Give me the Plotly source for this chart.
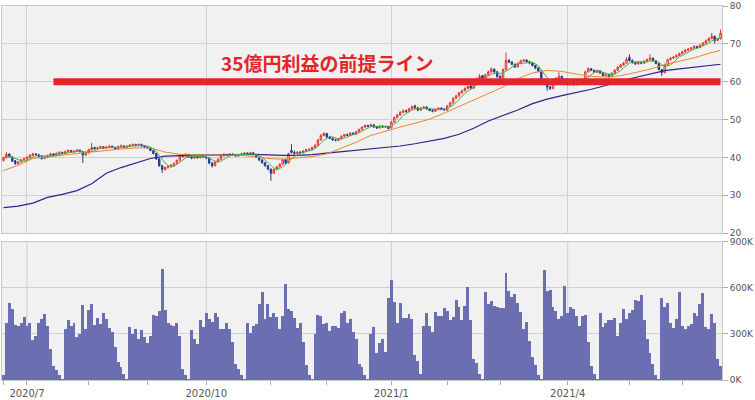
import pandas as pd
import plotly.graph_objects as go

# ---------------- data ----------------
START, END = "2020-06-19", "2021-06-18"
HOLIDAYS = ["2020-07-23", "2020-07-24", "2020-08-10", "2020-09-21", "2020-09-22",
            "2020-11-03", "2020-11-23", "2020-12-31", "2021-01-01", "2021-01-11",
            "2021-02-11", "2021-02-23", "2021-04-29", "2021-05-03", "2021-05-04",
            "2021-05-05"]

OPEN = [
    39.2, 39.9, 40.9, 40.1, 39.1, 38.3, 38.8, 39.4,
    39.6, 40.0, 40.5, 40.9, 40.7, 40.2, 39.7, 40.0, 40.5, 40.9, 40.6, 41.0, 41.3, 41.0, 41.5, 41.8, 41.4, 41.6, 41.9, 41.5, 40.6,
    41.2, 42.0, 42.6, 42.3, 42.5, 42.8, 42.4, 42.7, 42.9, 42.6, 42.3, 42.8, 43.0, 42.7, 42.9, 43.2, 43.4, 43.1, 43.4, 43.0,
    42.8, 42.5, 41.8, 41.0, 39.6, 37.8, 36.8, 37.3, 37.6, 37.9, 38.4, 39.2, 40.5, 40.3, 40.8, 40.1, 39.8, 40.2, 39.9, 40.4,
    40.1, 39.8, 38.5, 37.8, 38.8, 39.5, 40.4, 40.8, 40.5, 40.9, 40.6, 40.4, 40.7, 40.9, 41.1, 40.8, 41.2, 40.7, 40.0, 39.3, 38.6, 37.8,
    36.9, 35.8, 36.8, 37.5, 38.2, 39.4, 38.5, 41.8, 41.3, 41.0, 41.4, 41.2, 41.7, 42.0, 42.1, 42.6, 43.2, 44.6, 45.8,
    46.3, 45.4, 45.0, 44.6, 44.5, 44.9, 45.6, 46.0, 45.8, 46.4, 46.1, 46.8, 47.4, 48.0, 48.4, 48.2, 48.6, 48.0, 47.8, 48.3, 48.0, 48.2,
    47.8, 49.3, 50.5, 51.2, 51.9, 52.3, 52.1, 52.8, 53.6, 53.1, 52.5, 53.0, 53.3, 52.8, 52.4, 52.2, 52.7, 53.0, 52.8,
    52.5, 53.6, 54.4, 55.6, 56.2, 57.0, 57.6, 58.2, 58.9, 58.3, 59.6, 60.8, 61.6, 60.9, 61.8, 62.6, 63.3, 62.6,
    61.4, 61.0, 63.2, 65.6, 65.2, 64.6, 63.9, 64.8, 65.5, 65.7, 65.3, 64.9, 64.3, 63.6, 62.8, 60.2, 59.9, 58.6, 58.2, 60.3, 60.9, 61.4, 60.2,
    60.6, 59.3, 59.8, 59.2, 59.6, 60.1, 60.5, 62.6, 63.4, 63.0, 62.5, 62.9, 62.3, 61.6, 61.8, 61.3, 62.2, 63.0, 63.8, 64.4, 64.9,
    66.4, 65.6, 65.0, 64.7, 65.2, 64.9, 65.4, 65.8, 66.2, 65.5, 64.8, 63.2, 62.4, 64.5, 65.8, 66.2, 66.5, 66.9,
    67.4, 67.9, 68.3, 68.6, 68.9, 69.3, 69.0, 69.6, 70.2, 70.8, 71.4, 72.0, 70.9, 71.3,
]
HIGH = [
    40.2, 41.4, 41.0, 40.3, 39.3, 39.0, 39.6, 39.9,
    40.3, 40.8, 41.2, 41.1, 40.9, 40.4, 40.3, 40.7, 41.2, 41.1, 41.3, 41.6, 41.5, 41.8, 42.1, 42.0, 41.9, 42.2, 42.1, 41.7, 41.5,
    42.3, 43.8, 42.8, 42.8, 43.1, 42.9, 43.0, 43.2, 43.1, 42.8, 43.1, 43.4, 43.2, 43.2, 43.5, 43.7, 43.6, 43.7, 43.6, 43.2,
    43.0, 42.7, 42.0, 41.2, 39.8, 38.0, 37.6, 37.9, 38.2, 38.6, 39.4, 40.8, 40.8, 41.1, 40.9, 40.4, 40.5, 40.4, 40.7, 40.6,
    40.3, 40.0, 38.7, 39.0, 39.7, 40.6, 41.1, 40.9, 41.1, 41.0, 40.8, 40.9, 41.2, 41.4, 41.3, 41.5, 41.4, 40.9, 40.2, 39.5, 38.8, 38.0,
    37.0, 37.0, 37.7, 38.4, 39.7, 39.6, 41.2, 43.5, 41.8, 41.6, 41.6, 41.9, 42.2, 42.4, 42.8, 43.4, 44.8, 46.1, 46.6,
    46.5, 45.7, 45.3, 44.9, 45.1, 45.8, 46.2, 46.3, 46.6, 46.6, 47.0, 47.6, 48.2, 48.7, 48.6, 48.9, 48.7, 48.3, 48.5, 48.5, 48.4, 48.3,
    49.6, 50.8, 51.5, 52.2, 52.7, 52.6, 53.1, 53.7, 53.9, 53.3, 53.2, 53.6, 53.5, 53.0, 52.7, 52.9, 53.2, 53.2, 53.0,
    53.8, 54.7, 55.9, 56.5, 57.3, 57.9, 58.5, 59.0, 59.1, 59.9, 61.1, 62.0, 61.8, 62.1, 62.9, 63.8, 63.5, 62.8,
    61.8, 63.5, 67.7, 66.0, 65.4, 64.8, 65.1, 65.8, 66.0, 65.9, 65.5, 65.1, 64.5, 63.8, 62.9, 60.8, 60.1, 58.9, 60.6, 61.2, 62.5, 61.6, 60.9,
    60.8, 60.1, 60.0, 59.9, 60.4, 60.8, 62.9, 63.8, 63.6, 63.2, 63.2, 63.0, 62.5, 62.1, 61.9, 62.5, 63.3, 64.1, 64.7, 65.2, 66.4,
    67.2, 65.9, 65.3, 65.5, 65.4, 65.7, 66.1, 67.2, 66.4, 65.7, 65.0, 63.4, 64.8, 66.1, 66.5, 66.8, 67.2, 67.7,
    68.2, 68.6, 68.9, 69.2, 69.6, 69.5, 69.9, 70.5, 71.1, 71.7, 72.8, 72.2, 71.6, 73.8,
]
LOW = [
    38.9, 39.7, 39.9, 38.8, 38.0, 38.1, 38.6, 39.1,
    39.4, 39.8, 40.3, 40.5, 40.0, 39.4, 39.5, 39.9, 40.3, 40.4, 40.4, 40.8, 40.8, 40.8, 41.3, 41.2, 41.2, 41.4, 41.3, 38.5, 40.4,
    41.0, 41.8, 42.0, 42.1, 42.3, 42.2, 42.2, 42.5, 42.4, 42.0, 42.1, 42.6, 42.5, 42.5, 42.7, 43.0, 42.9, 42.9, 42.8, 42.4,
    42.2, 41.6, 40.8, 39.3, 37.5, 35.9, 36.5, 37.0, 37.3, 37.6, 38.2, 39.0, 40.0, 40.1, 39.9, 39.5, 39.6, 39.7, 39.7, 39.8,
    39.6, 38.2, 37.3, 37.6, 38.6, 39.3, 40.2, 40.3, 40.3, 40.4, 40.2, 40.2, 40.5, 40.7, 40.6, 40.6, 40.5, 39.8, 39.0, 38.3, 37.5, 36.6,
    33.8, 35.6, 36.6, 37.3, 38.0, 38.3, 38.4, 41.0, 40.8, 40.8, 41.0, 41.0, 41.5, 41.8, 41.9, 42.4, 43.0, 44.4, 45.6,
    45.1, 44.8, 44.4, 44.2, 44.3, 44.7, 45.4, 45.6, 45.6, 45.9, 45.9, 46.6, 47.2, 47.8, 48.0, 48.0, 47.8, 47.5, 47.6, 47.8, 47.8, 47.4,
    47.6, 49.1, 50.3, 51.0, 51.7, 51.8, 51.9, 52.6, 52.8, 52.2, 52.3, 52.8, 52.6, 52.2, 51.9, 52.0, 52.5, 52.6, 52.3,
    52.3, 53.4, 54.2, 55.4, 56.0, 56.8, 57.4, 58.0, 58.0, 58.1, 59.4, 60.6, 60.6, 60.7, 61.6, 62.4, 62.3, 61.0,
    60.6, 60.8, 63.0, 64.9, 64.3, 63.6, 63.7, 64.6, 65.2, 65.0, 64.6, 64.0, 63.3, 62.5, 59.8, 59.3, 57.6, 57.8, 58.0, 60.1, 60.7, 59.9, 60.0,
    59.0, 59.0, 58.9, 59.0, 59.4, 59.9, 60.3, 62.4, 62.8, 62.3, 62.3, 62.1, 61.4, 61.4, 61.0, 61.1, 62.0, 62.8, 63.6, 64.2, 64.7,
    65.3, 64.8, 64.4, 64.5, 64.6, 64.7, 65.2, 65.6, 65.2, 64.6, 63.0, 61.5, 62.2, 64.3, 65.6, 66.0, 66.3, 66.7,
    67.2, 67.7, 68.1, 68.4, 68.7, 68.8, 68.9, 69.4, 70.0, 70.6, 71.2, 70.1, 70.7, 71.1,
]
CLOSE = [
    39.8, 40.8, 40.2, 39.0, 38.4, 38.7, 39.3, 39.6,
    40.0, 40.6, 40.9, 40.7, 40.2, 39.7, 40.0, 40.5, 40.9, 40.6, 41.0, 41.3, 41.0, 41.5, 41.8, 41.4, 41.6, 41.9, 41.5, 40.6, 41.2,
    42.0, 42.6, 42.3, 42.5, 42.8, 42.4, 42.7, 42.9, 42.6, 42.3, 42.8, 43.0, 42.7, 42.9, 43.2, 43.4, 43.1, 43.4, 43.0, 42.8,
    42.5, 41.8, 41.0, 39.6, 37.8, 36.8, 37.3, 37.6, 37.9, 38.4, 39.2, 40.5, 40.3, 40.8, 40.1, 39.8, 40.2, 39.9, 40.4, 40.1,
    39.8, 38.5, 37.8, 38.8, 39.5, 40.4, 40.8, 40.5, 40.9, 40.6, 40.4, 40.7, 40.9, 41.1, 40.8, 41.2, 40.7, 40.0, 39.3, 38.6, 37.8, 36.9,
    35.8, 36.8, 37.5, 38.2, 39.4, 38.5, 41.0, 41.3, 41.0, 41.4, 41.2, 41.7, 42.0, 42.1, 42.6, 43.2, 44.6, 45.8, 46.3,
    45.4, 45.0, 44.6, 44.5, 44.9, 45.6, 46.0, 45.8, 46.4, 46.1, 46.8, 47.4, 48.0, 48.4, 48.2, 48.6, 48.0, 47.8, 48.3, 48.0, 48.2, 47.6,
    49.3, 50.5, 51.2, 51.9, 52.3, 52.1, 52.8, 53.4, 53.1, 52.5, 53.0, 53.3, 52.8, 52.4, 52.2, 52.7, 53.0, 52.8, 52.5,
    53.6, 54.4, 55.6, 56.2, 57.0, 57.6, 58.2, 58.7, 58.3, 59.6, 60.8, 61.4, 60.9, 61.8, 62.6, 63.3, 62.6, 61.4,
    61.0, 63.2, 65.6, 65.2, 64.6, 63.9, 64.8, 65.5, 65.7, 65.3, 64.9, 64.3, 63.6, 62.8, 60.2, 59.9, 58.6, 58.2, 60.3, 60.9, 61.4, 60.2, 60.6,
    59.3, 59.8, 59.2, 59.6, 60.1, 60.5, 62.6, 63.4, 63.0, 62.5, 62.9, 62.3, 61.6, 61.8, 61.3, 62.2, 63.0, 63.8, 64.4, 64.9, 65.9,
    65.6, 65.0, 64.7, 65.2, 64.9, 65.4, 65.8, 66.2, 65.5, 64.8, 63.2, 62.4, 64.5, 65.8, 66.2, 66.5, 66.9, 67.4,
    67.9, 68.3, 68.6, 68.9, 69.3, 69.0, 69.6, 70.2, 70.8, 71.4, 72.0, 70.9, 71.3, 72.8,
]
VOLUME_K = [
    30, 370, 500, 460, 360, 350, 370, 410, 350, 375, 260, 290, 370, 400, 430, 350, 205, 90, 65, 30, 5,
    335, 390, 355, 375, 280, 300, 490, 335, 455, 495, 360, 405, 365, 435, 400, 340, 315, 215, 120, 88, 40, 5,
    345, 300, 335, 270, 325, 280, 240, 290, 425, 415, 450, 725, 455, 370, 360, 355, 375, 285, 75, 35, 5,
    325, 270, 235, 390, 345, 440, 395, 380, 435, 410, 335, 330, 375, 335, 250, 105, 75, 35, 5,
    370, 305, 355, 365, 495, 575, 395, 495, 410, 435, 410, 335, 415, 625, 465, 450, 405, 340, 375, 245, 100, 35, 5,
    300, 425, 415, 365, 370, 320, 355, 350, 340, 435, 450, 375, 400, 315, 270, 105, 88, 35, 5,
    300, 345, 175, 240, 270, 185, 535, 650, 510, 375, 500, 405, 405, 430, 395, 165, 125, 40,
    355, 440, 355, 315, 445, 415, 415, 470, 450, 390, 410, 525, 475, 390, 485, 605, 390, 135, 108, 40, 5,
    575, 495, 515, 480, 475, 470, 470, 700, 580, 540, 560, 500, 445, 335, 380, 255, 150, 95, 35, 5,
    715, 580, 585, 475, 450, 395, 420, 610, 440, 475, 460, 420, 355, 415, 425, 250, 90, 40, 5,
    435, 345, 370, 390, 390, 405, 290, 375, 465, 395, 435, 455, 525, 515, 555, 390, 270, 175, 105, 35, 5,
    535, 475, 500, 375, 340, 395, 575, 355, 330, 355, 365, 440, 415, 495, 565, 345, 335, 430, 375, 140, 90,
]
# moving averages read every 5th trading day (plus the last day)
MA_STEP = 5
MA25 = [36.5, 37.9, 39.7, 40.2, 40.6, 41.0, 41.4, 41.9, 42.2, 42.5,
        42.5, 41.4, 40.8, 40.6, 40.6, 40.6, 40.6, 40.2, 39.7, 39.5,
        39.8, 40.2, 40.9, 42.4, 44.0, 45.8, 47.0, 48.0, 49.0, 50.1,
        51.7, 53.4, 55.2, 57.0, 58.6, 60.8, 62.3, 63.0, 62.7, 62.0,
        61.4, 61.2, 61.6, 62.4, 63.3, 64.5, 65.4, 66.3, 67.5, 68.3]
MA75 = [26.7, 27.1, 27.9, 29.4, 30.2, 31.2, 33.0, 35.8, 37.3, 38.6,
        39.7, 40.3, 40.5, 40.6, 40.6, 40.6, 40.7, 40.8, 40.6, 40.5,
        40.5, 40.7, 41.1, 41.5, 42.0, 42.4, 42.7, 43.0, 43.6, 44.2,
        45.0, 46.1, 47.7, 49.6, 51.0, 52.5, 54.2, 55.4, 56.3, 57.1,
        58.0, 59.0, 60.2, 61.1, 62.0, 62.9, 63.4, 63.8, 64.2, 64.6]
PREMISE_LEVEL = 60
PREMISE_START = "2020-07-14"
PREMISE_TEXT = "35億円利益の前提ライン"
QUARTER_LABELS = {"2020-07": "2020/7", "2020-10": "2020/10", "2021-01": "2021/1", "2021-04": "2021/4"}

# ---------------- build ----------------
days = pd.bdate_range(START, END)
days = days[~days.isin(pd.to_datetime(HOLIDAYS))]
dates = [d.strftime("%Y-%m-%d") for d in days]
lens = {k: len(v) for k, v in dict(OPEN=OPEN, HIGH=HIGH, LOW=LOW, CLOSE=CLOSE, VOL=VOLUME_K).items()}
if any(v != len(dates) for v in lens.values()):
    raise SystemExit(f"length mismatch: dates={len(dates)} {lens}")

ma_idx = list(range(0, len(dates), MA_STEP))
if ma_idx[-1] != len(dates) - 1:
    ma_idx.append(len(dates) - 1)
ma_x = [dates[i] for i in ma_idx]
ma5 = pd.Series(CLOSE).rolling(5, min_periods=1).mean()

month_first = pd.Series(dates).groupby(pd.Series(dates).str[:7]).first()
month_vals = list(month_first.values)
month_text = [QUARTER_LABELS.get(m, "") for m in month_first.index]
quarter_vals = [month_first[m] for m in QUARTER_LABELS]

RED = "#e3262b"
fig = go.Figure()
fig.add_trace(go.Bar(x=dates, y=[v * 1000 for v in VOLUME_K], marker=dict(color="#6b6fb2", line_width=0),
                     xaxis="x2", yaxis="y2", hoverinfo="skip"))
fig.add_trace(go.Scatter(x=ma_x, y=MA75, mode="lines", line=dict(color="#34208c", width=1.2), hoverinfo="skip"))
fig.add_trace(go.Scatter(x=ma_x, y=MA25, mode="lines", line=dict(color="#e5892f", width=1), hoverinfo="skip"))
fig.add_trace(go.Scatter(x=dates, y=ma5, mode="lines", line=dict(color="#48b048", width=1), hoverinfo="skip"))
fig.add_trace(go.Candlestick(
    x=dates, open=OPEN, high=HIGH, low=LOW, close=CLOSE,
    increasing=dict(line=dict(color="#e8302a", width=1), fillcolor="rgba(255,235,235,0.9)"),
    decreasing=dict(line=dict(color="#2b3a8f", width=1), fillcolor="#2b3a8f"),
    hoverinfo="skip"))

fig.add_shape(type="line", xref="x", yref="y", x0=PREMISE_START, x1=dates[-1],
              y0=PREMISE_LEVEL, y1=PREMISE_LEVEL, line=dict(color=RED, width=7))
fig.add_annotation(text=PREMISE_TEXT, xref="x domain", yref="y", x=0.452, y=65.2,
                   showarrow=False, font=dict(family="Noto Sans CJK JP", size=19, color=RED, weight="bold"))
for q in quarter_vals:
    fig.add_shape(type="line", xref="x2", yref="y2 domain", x0=q, x1=q, y0=0, y1=1,
                  line=dict(color="#cfcfcf", width=1), layer="below")

GRID = "#d0d0d0"
tickfont = dict(family="DejaVu Sans", size=9, color="#555555")
datefont = dict(family="DejaVu Sans", size=10, color="#555555")
fig.update_layout(
    width=755, height=400, margin=dict(l=1, r=32, t=3, b=18),
    paper_bgcolor="white", plot_bgcolor="#f1f1f1", showlegend=False, bargap=0,
    xaxis=dict(type="category", anchor="y", domain=[0, 1], tickmode="array", tickvals=quarter_vals,
               showticklabels=False, showgrid=True, gridcolor=GRID, ticks="",
               showline=True, linecolor="#c8c8c8", mirror=True, rangeslider=dict(visible=False),
               range=[-0.5, len(dates) - 0.5]),
    yaxis=dict(domain=[0.393, 1], side="right", range=[20, 80], tickmode="array",
               tickvals=[20, 30, 40, 50, 60, 70, 80], showgrid=True, gridcolor=GRID, zeroline=False,
               ticks="outside", ticklen=5, tickcolor="#aaaaaa", tickfont=tickfont,
               showline=True, linecolor="#c8c8c8", mirror=True),
    xaxis2=dict(type="category", anchor="y2", matches="x", domain=[0, 1], tickmode="array",
                tickvals=month_vals, ticktext=month_text, ticks="outside", ticklen=4, tickcolor="#aaaaaa",
                showgrid=False, tickfont=datefont, showline=True, linecolor="#c8c8c8", mirror=True),
    yaxis2=dict(domain=[0, 0.369], side="right", range=[0, 900000], tickmode="array",
                tickvals=[0, 300000, 600000, 900000], ticktext=["0K", "300K", "600K", "900K"],
                showgrid=True, gridcolor=GRID, zeroline=False, ticks="outside", ticklen=5,
                tickcolor="#aaaaaa", tickfont=tickfont, showline=True, linecolor="#c8c8c8", mirror=True),
)
fig.write_html("out.html", config={"displayModeBar": False},
               post_script="document.body.style.margin='0';document.body.style.overflow='hidden';")
